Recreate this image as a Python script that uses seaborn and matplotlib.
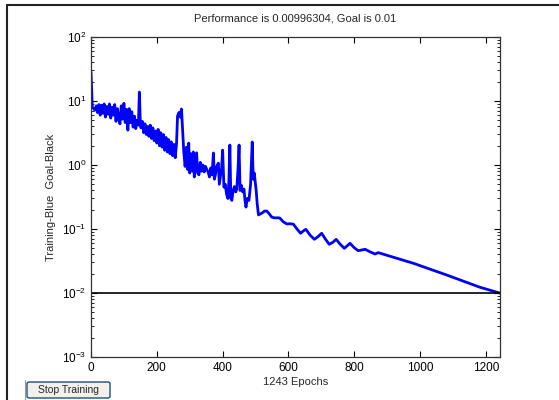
import numpy as np
import pandas as pd
import matplotlib
matplotlib.use("Agg")
import matplotlib.pyplot as plt
from matplotlib.patches import FancyBboxPatch
from matplotlib.lines import Line2D
import seaborn as sns

# training performance (epoch, mse)
epochs = [0, 4, 8, 12, 16, 20, 24, 28, 32, 36, 40, 44, 48, 52, 56, 60, 64, 68,
          72, 76, 80, 84, 88, 92, 96, 100, 104, 108, 112, 116, 120, 124, 128,
          132, 136, 140, 144, 147, 150,
          152, 156, 160, 164, 168, 172, 176, 180, 184, 188, 192, 196, 200, 204,
          208, 212, 216, 220, 224, 228, 232, 236, 240, 244, 248, 252, 256, 260,
          263, 267, 271, 275, 279, 282,
          286, 290, 294, 297, 300, 304, 308, 311, 314, 318, 321, 324, 328, 332,
          336, 340, 344, 348, 352, 356, 360, 364, 368, 372, 375, 378, 382, 387,
          390, 394, 397, 400, 404, 408, 412, 416, 419, 422, 425, 428, 432, 436,
          440, 443, 447, 450, 453, 457, 461, 465, 468, 471, 475, 480, 485, 490,
          493, 496, 499, 502, 505, 509,
          520, 527, 534, 541, 549, 556, 562, 568, 574, 584, 595, 605, 615, 626,
          637, 645, 653, 666, 679, 690, 701, 712, 724, 735, 745, 757, 770, 779,
          787, 800, 812, 822, 833, 848, 863, 873, 980, 1081, 1182, 1243]
perf = [28.4, 8.0, 7.6, 7.2, 8.4, 6.6, 8.8, 6.0, 8.6, 6.4, 9.0, 5.6, 8.2, 6.2,
        9.0, 5.4, 8.0, 6.0, 8.8, 4.8, 7.6, 5.6, 4.4, 8.4, 5.2, 9.2, 4.6, 7.4,
        3.5, 7.6, 4.6, 6.8, 3.9, 5.8, 3.7, 5.0, 4.2, 13.8, 4.4,
        3.8, 4.8, 3.2, 4.4, 3.0, 4.0, 2.8, 4.2, 2.6, 3.8, 2.4, 3.4, 2.2, 3.6,
        2.0, 3.2, 1.9, 3.0, 1.7, 2.7, 1.6, 2.5, 1.5, 2.3, 1.4, 2.1, 1.3, 2.2,
        5.8, 6.6, 5.6, 7.5, 3.0, 1.6,
        0.95, 1.9, 0.85, 2.2, 0.75, 1.5, 0.8, 1.6, 0.65, 1.3, 1.55, 0.75, 0.7,
        1.1, 0.8, 1.0, 0.78, 0.95, 0.85, 0.78, 0.65, 0.9, 0.7, 1.54, 0.6, 0.7,
        0.95, 1.07, 0.5, 0.7, 0.9, 1.71, 0.45, 0.5, 0.35, 0.3, 0.55, 2.05, 0.3,
        0.28, 0.4, 0.46, 0.38, 0.42, 0.9, 2.05, 0.4, 0.48, 0.38, 0.42, 0.28,
        0.22, 0.3, 0.28, 0.5, 2.29, 0.6, 0.75, 0.55, 0.4, 0.25, 0.166,
        0.178, 0.19, 0.191, 0.175, 0.154, 0.15, 0.149, 0.15, 0.148, 0.13, 0.120,
        0.121, 0.119, 0.1, 0.0858, 0.093, 0.0989, 0.08, 0.069, 0.076, 0.0858,
        0.07, 0.0577, 0.062, 0.069, 0.058, 0.0499, 0.055, 0.0598, 0.051, 0.0458,
        0.047, 0.0482, 0.044, 0.0407, 0.0427, 0.0291, 0.0191, 0.0123, 0.00996]
goal = 0.01
n_epochs = 1243
title = "Performance is 0.00996304, Goal is 0.01"

df = pd.DataFrame({"epoch": epochs, "perf": perf})

sns.set_style("white")
plt.rcParams["font.family"] = ["Liberation Sans", "DejaVu Sans"]
plt.rcParams["mathtext.fontset"] = "custom"
plt.rcParams["mathtext.rm"] = "Liberation Sans"

fig = plt.figure(figsize=(5.59, 4.0), dpi=100)
ax = fig.add_axes([91 / 559, 1 - 357 / 400, 409 / 559, 320 / 400])

sns.lineplot(data=df, x="epoch", y="perf", ax=ax, color="#0000ff",
             linewidth=2.0, estimator=None)
ax.plot([0, n_epochs], [goal, goal], color="black", linewidth=1.2)

ax.set_yscale("log")
ax.set_xlim(0, n_epochs)
ax.set_ylim(1e-3, 1e2)
ax.set_xticks([0, 200, 400, 600, 800, 1000, 1200])

ax.tick_params(which="both", direction="in", top=True, right=True,
               left=True, bottom=True, labelsize=8.5, colors="black")
ax.tick_params(which="major", length=4, width=0.8)
ax.tick_params(which="minor", length=2.5, width=0.6)
for s in ax.spines.values():
    s.set_color("#333333")
    s.set_linewidth(0.9)

ax.set_title(title, fontsize=8, pad=11)
ax.set_xlabel("%d Epochs" % n_epochs, fontsize=8, labelpad=2)
ax.set_ylabel("Training-Blue  Goal-Black", fontsize=8, labelpad=4)

# window border
fig.add_artist(Line2D([7 / 559, 1], [1 - 5 / 400, 1 - 5 / 400], color="#222222",
                      linewidth=1.5, transform=fig.transFigure))
fig.add_artist(Line2D([7 / 559, 7 / 559], [0, 1 - 5 / 400], color="#222222",
                      linewidth=1.5, transform=fig.transFigure))
fig.add_artist(Line2D([24.5 / 559, 24.5 / 559], [0, 1 - 380 / 400], color="#999999",
                      linewidth=0.8, transform=fig.transFigure))

# stop button
btn = FancyBboxPatch((27 / 559, 2 / 400), 83 / 559, 16 / 400,
                     boxstyle="round,pad=0,rounding_size=0.004",
                     transform=fig.transFigure, facecolor="#f1f0ea",
                     edgecolor="#1f4f7f", linewidth=1.0)
fig.add_artist(btn)
fig.text(68.5 / 559, 10 / 400, "Stop Training", fontsize=7.5,
         ha="center", va="center")

fig.savefig("out.png", dpi=100)
plt.close(fig)
